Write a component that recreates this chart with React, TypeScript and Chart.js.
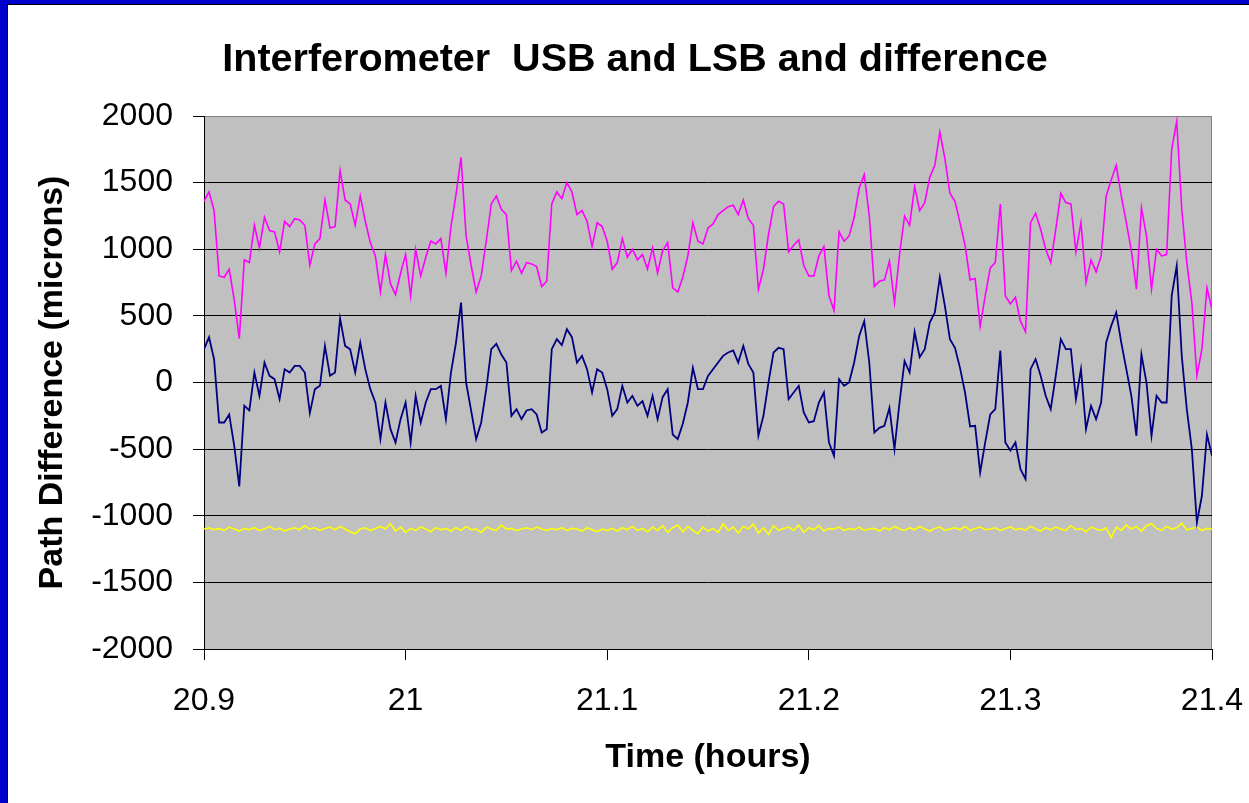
import React, { useEffect, useRef } from "react";
import { Chart, registerables } from "chart.js";

Chart.register(...registerables);

const TITLE = "Interferometer  USB and LSB and difference";
const X_TITLE = "Time (hours)";
const Y_TITLE = "Path Difference (microns)";

const T_START = 20.9;
const T_STEP = 0.0025;

const xTickValues = [20.9, 21, 21.1, 21.2, 21.3, 21.4];
const xTickLabels = ["20.9", "21", "21.1", "21.2", "21.3", "21.4"];
const yTickValues = [-2000, -1500, -1000, -500, 0, 500, 1000, 1500, 2000];
const yTickLabels = ["-2000", "-1500", "-1000", "-500", "0", "500", "1000", "1500", "2000"];

// magenta trace
const usb = [
  1360, 1430, 1290, 800, 790, 850, 620, 330, 920, 900,
  1180, 1010, 1240, 1140, 1130, 980, 1210, 1170, 1230, 1220,
  1180, 880, 1040, 1080, 1370, 1160, 1170, 1590, 1370, 1340,
  1180, 1400, 1210, 1050, 950, 680, 960, 740, 660, 820,
  960, 650, 1000, 800, 940, 1060, 1040, 1080, 820, 1170,
  1410, 1690, 1100, 880, 680, 800, 1060, 1340, 1400, 1300,
  1260, 840, 910, 820, 900, 890, 870, 720, 760, 1340,
  1430, 1380, 1500, 1430, 1260, 1290, 1210, 1020, 1200, 1170,
  1060, 850, 900, 1080, 940, 1000, 920, 960, 850, 1010,
  820, 990, 1050, 710, 680, 790, 950, 1200, 1060, 1040,
  1160, 1190, 1260, 1290, 1320, 1330, 1260, 1370, 1230, 1180,
  700, 850, 1110, 1320, 1360, 1340, 980, 1030, 1070, 880,
  800, 800, 950, 1020, 650, 540, 1130, 1060, 1100, 1240,
  1460, 1560, 1250, 720, 760, 770, 910, 600, 960, 1250,
  1180, 1470, 1290, 1350, 1540, 1630, 1880, 1680, 1420, 1360,
  1200, 1030, 770, 780, 420, 650, 860, 900, 1340, 650,
  590, 640, 460, 380, 1200, 1270, 1150, 1000, 900, 1150,
  1420, 1350, 1340, 980, 1200, 750, 920, 830, 950, 1400,
  1520, 1630, 1400, 1200, 990, 700, 1310, 1100, 700, 1000,
  950, 960, 1750, 1960, 1300, 900, 600, 50, 250, 710,
  550,
];

// dark blue trace
const lsb = [
  250, 340, 175, -300, -300, -240, -475, -780, -175, -210,
  75, -100, 150, 50, 25, -125, 100, 75, 125, 125,
  75, -230, -50, -25, 275, 50, 75, 480, 275, 250,
  75, 300, 100, -50, -150, -425, -150, -350, -450, -275,
  -150, -450, -100, -300, -150, -50, -50, -25, -275, 75,
  300, 600, 0, -210, -425, -300, -50, 250, 290, 210,
  150, -250, -200, -275, -210, -200, -240, -375, -350, 250,
  325, 280, 400, 340, 150, 200, 100, -75, 100, 75,
  -50, -250, -200, -25, -150, -100, -175, -140, -250, -100,
  -275, -110, -50, -390, -425, -310, -150, 110, -50, -50,
  50, 100, 150, 200, 225, 240, 150, 275, 140, 75,
  -400, -250, 0, 225, 260, 250, -125, -75, -25, -225,
  -300, -290, -150, -75, -450, -550, 25, -25, 0, 150,
  350, 460, 150, -375, -340, -325, -190, -500, -150, 160,
  75, 380, 190, 250, 450, 525, 790, 575, 325, 260,
  110, -75, -330, -325, -675, -450, -240, -200, 240, -450,
  -510, -450, -650, -725, 100, 175, 50, -100, -200, 50,
  325, 250, 250, -125, 100, -350, -175, -275, -150, 300,
  425, 525, 300, 100, -100, -400, 210, 0, -400, -100,
  -150, -150, 650, 875, 200, -200, -500, -1050, -850, -390,
  -550,
];

// yellow trace
const difference = [
  -1100, -1090, -1105, -1095, -1110, -1085, -1100, -1115, -1095, -1105,
  -1090, -1110, -1100, -1080, -1105, -1095, -1115, -1100, -1090, -1105,
  -1075, -1100, -1090, -1110, -1095, -1085, -1105, -1080, -1100, -1120,
  -1135, -1100, -1090, -1110, -1095, -1080, -1100, -1060, -1115, -1085,
  -1125, -1095, -1110, -1085, -1100, -1120, -1090, -1105, -1095, -1115,
  -1090, -1110, -1080, -1105, -1100, -1125, -1085, -1100, -1110, -1070,
  -1100, -1095, -1110, -1100, -1090, -1105, -1085, -1100, -1110, -1095,
  -1105, -1090, -1110, -1095, -1100, -1115, -1090, -1105, -1120, -1100,
  -1110, -1095, -1115, -1090, -1105, -1080, -1110, -1095, -1120, -1085,
  -1110, -1075, -1125, -1090, -1070, -1120, -1080, -1110, -1135, -1085,
  -1115, -1095, -1125, -1060, -1110, -1085, -1130, -1080, -1100, -1060,
  -1130, -1090, -1140, -1075, -1110, -1095, -1085, -1110, -1070, -1125,
  -1090, -1105, -1075, -1115, -1095, -1100, -1085, -1110, -1095, -1105,
  -1085, -1110, -1100, -1095, -1115, -1090, -1105, -1080, -1100, -1110,
  -1090, -1105, -1080, -1100, -1115, -1095, -1085, -1110, -1100, -1090,
  -1105, -1080, -1110, -1095, -1085, -1105, -1100, -1090, -1110, -1095,
  -1085, -1105, -1095, -1110, -1080, -1100, -1115, -1090, -1105, -1085,
  -1100, -1110, -1075, -1105, -1095, -1120, -1085, -1100, -1110, -1090,
  -1165, -1085, -1110, -1070, -1100, -1080, -1115, -1075, -1060, -1095,
  -1110, -1080, -1100, -1090, -1055, -1105, -1095, -1085, -1110, -1095,
  -1100,
];

const FONT = '"Liberation Sans", Arial, Helvetica, sans-serif';

function toPoints(values: number[]) {
  return values.map((v, i) => ({ x: T_START + i * T_STEP, y: v }));
}

const CANVAS_W = 1241;
const CANVAS_H = 798;
const AREA_LEFT = 196;
const AREA_RIGHT = 1204;
const AREA_TOP = 111;
const AREA_BOTTOM = 644;

const framePlugin = {
  id: "frame",
  beforeDraw(chart: any) {
    const { ctx, chartArea } = chart;
    const { left, top, right, bottom } = chartArea;
    ctx.save();
    ctx.fillStyle = "#C0C0C0";
    ctx.fillRect(left, top, right - left, bottom - top);
    ctx.strokeStyle = "#808080";
    ctx.lineWidth = 1;
    ctx.beginPath();
    ctx.moveTo(left, Math.round(top) + 0.5);
    ctx.lineTo(Math.round(right) - 0.5, Math.round(top) + 0.5);
    ctx.lineTo(Math.round(right) - 0.5, bottom);
    ctx.stroke();
    ctx.restore();
  },
  afterDraw(chart: any) {
    const { ctx } = chart;
    ctx.save();
    ctx.fillStyle = "#000000";
    ctx.font = "bold 39.5px " + FONT;
    ctx.textAlign = "center";
    ctx.textBaseline = "alphabetic";
    ctx.fillText(TITLE, 627, 66);
    ctx.restore();
  },
};

export default function App() {
  const canvasRef = useRef<HTMLCanvasElement | null>(null);

  useEffect(() => {
    const canvas = canvasRef.current;
    if (!canvas) return;
    const chart = new Chart(canvas, {
      type: "line",
      data: {
        datasets: [
          {
            label: "USB",
            data: toPoints(usb),
            borderColor: "#FF00FF",
            borderWidth: 1.6,
            pointRadius: 0,
            tension: 0,
            fill: false,
          },
          {
            label: "LSB",
            data: toPoints(lsb),
            borderColor: "#000080",
            borderWidth: 1.8,
            pointRadius: 0,
            tension: 0,
            fill: false,
          },
          {
            label: "Difference",
            data: toPoints(difference),
            borderColor: "#FFFF00",
            borderWidth: 1.6,
            pointRadius: 0,
            tension: 0,
            fill: false,
          },
        ],
      },
      options: {
        responsive: false,
        animation: false,
        devicePixelRatio: 1,
        layout: {
          padding: { left: 0, right: CANVAS_W - AREA_RIGHT, top: AREA_TOP, bottom: 0 },
        },
        plugins: {
          legend: { display: false },
          title: { display: false },
          tooltip: { enabled: false },
        },
        scales: {
          x: {
            type: "linear",
            min: 20.9,
            max: 21.4,
            afterBuildTicks(scale: any) {
              scale.ticks = xTickValues.map((v) => ({ value: v }));
            },
            afterFit(scale: any) {
              scale.height = CANVAS_H - AREA_BOTTOM;
              scale.paddingLeft = 0;
              scale.paddingRight = 0;
            },
            ticks: {
              autoSkip: false,
              maxRotation: 0,
              padding: 22,
              color: "#000000",
              font: { family: FONT, size: 32 },
              callback: (value: any) => {
                const idx = xTickValues.findIndex((v) => Math.abs(v - Number(value)) < 1e-9);
                return idx >= 0 ? xTickLabels[idx] : "";
              },
            },
            grid: {
              drawOnChartArea: false,
              drawTicks: true,
              tickLength: 11,
              tickColor: "#000000",
              tickWidth: 1,
            },
            border: { display: true, color: "#000000", width: 1 },
            title: {
              display: true,
              text: X_TITLE,
              color: "#000000",
              font: { family: FONT, size: 34, weight: "bold" },
              padding: { top: 0, bottom: 25 },
            },
          },
          y: {
            type: "linear",
            min: -2000,
            max: 2000,
            afterBuildTicks(scale: any) {
              scale.ticks = yTickValues.map((v) => ({ value: v }));
            },
            afterFit(scale: any) {
              scale.width = AREA_LEFT;
              scale.paddingTop = 0;
              scale.paddingBottom = 0;
            },
            ticks: {
              padding: 20,
              color: "#000000",
              font: { family: FONT, size: 32 },
              callback: (value: any) => {
                const idx = yTickValues.indexOf(Number(value));
                return idx >= 0 ? yTickLabels[idx] : "";
              },
            },
            grid: {
              color: (ctx: any) => (ctx.tick && ctx.tick.value === 2000 ? "rgba(0,0,0,0)" : "#000000"),
              lineWidth: 1,
              drawTicks: true,
              tickLength: 11,
              tickColor: "#000000",
            },
            border: { display: true, color: "#000000", width: 1 },
            title: {
              display: true,
              text: Y_TITLE,
              color: "#000000",
              font: { family: FONT, size: 34, weight: "bold" },
              padding: { top: 24, bottom: 0 },
            },
          },
        },
      },
      plugins: [framePlugin],
    } as any);
    return () => {
      chart.destroy();
    };
  }, []);

  return (
    <div
      style={{
        position: "fixed",
        left: 0,
        top: 0,
        width: 1249,
        height: 803,
        background: "#0000CC",
        overflow: "hidden",
      }}
    >
      <div
        style={{
          position: "absolute",
          left: 7,
          top: 4,
          width: 1249 - 7,
          height: 803 - 4,
          boxSizing: "border-box",
          borderLeft: "1px solid #000000",
          borderTop: "1px solid #000000",
          background: "#FFFFFF",
        }}
      >
        <canvas
          ref={canvasRef}
          width={CANVAS_W}
          height={CANVAS_H}
          style={{ display: "block", width: CANVAS_W, height: CANVAS_H }}
        />
      </div>
    </div>
  );
}
